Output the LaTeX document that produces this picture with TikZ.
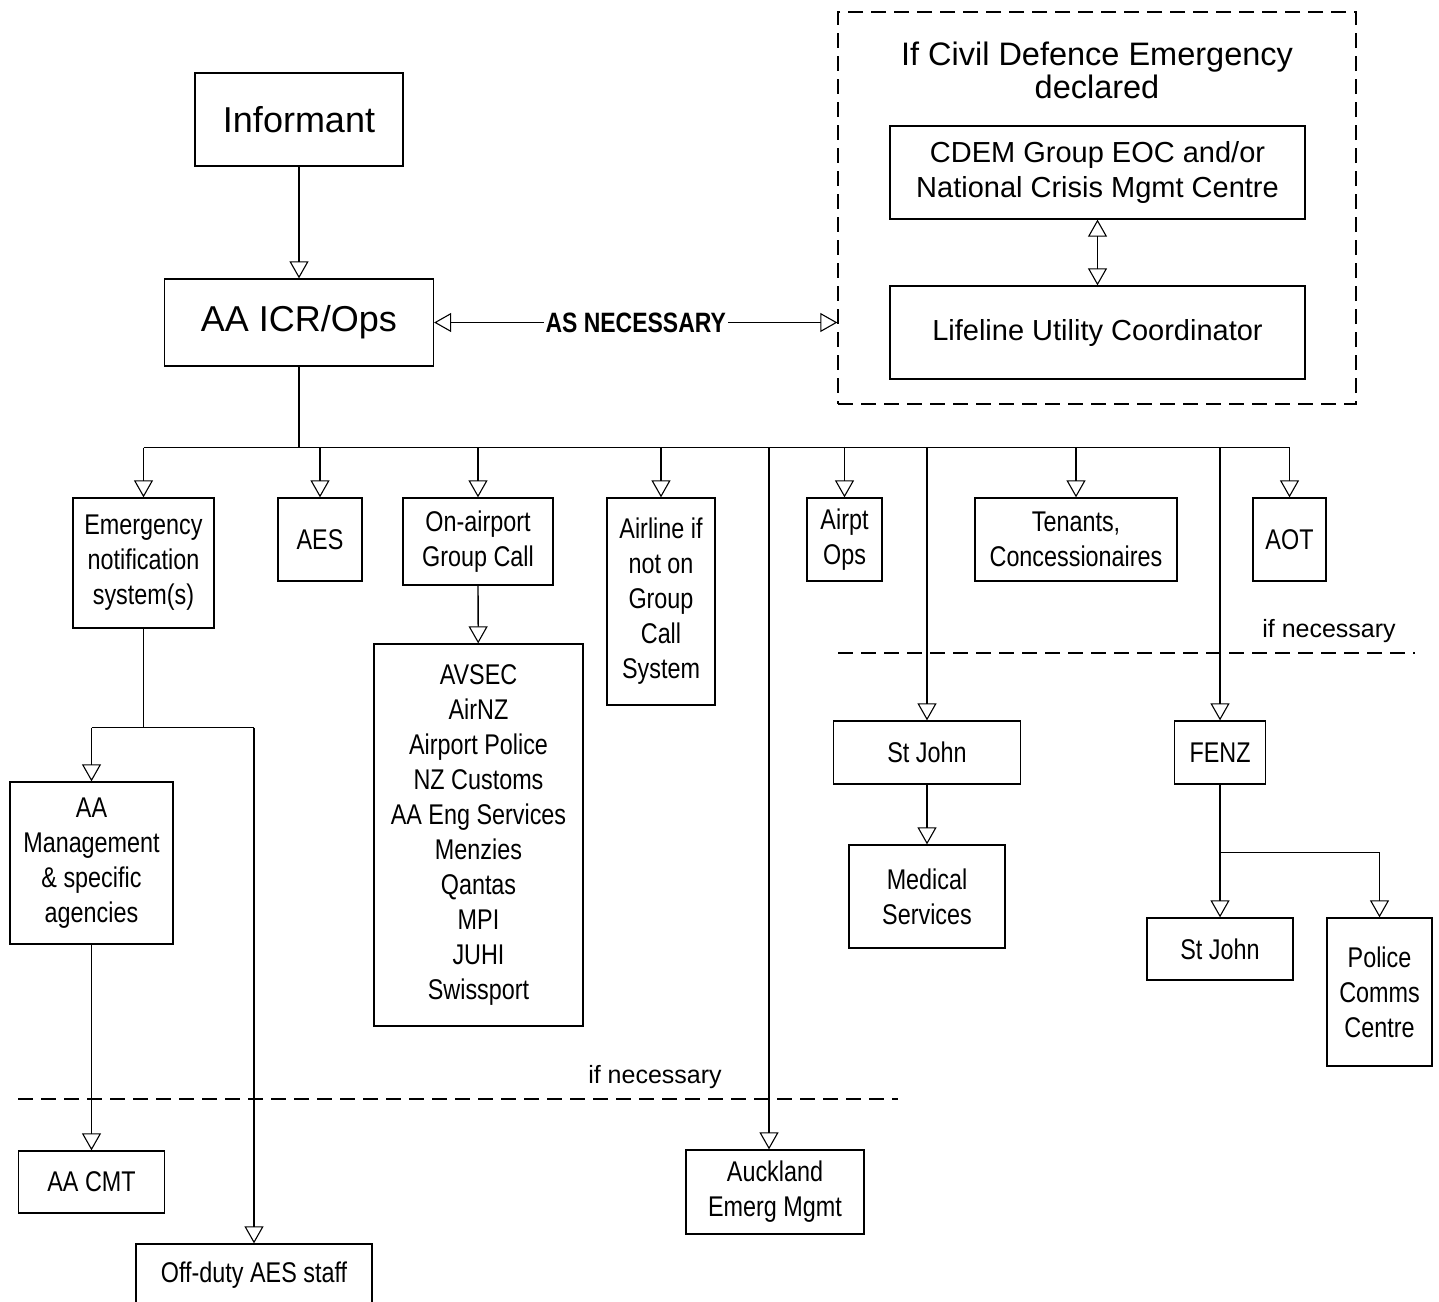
\documentclass[tikz,border=0pt]{standalone}
\usepackage{fontspec}
\setmainfont{Liberation Sans}
\newfontfamily\narrowfont[FakeStretch=0.82]{Liberation Sans}
\usetikzlibrary{arrows.meta,positioning}

\begin{document}
\begin{tikzpicture}[
  x=1pt, y=-1pt,
  line width=1.3pt,
  >={Triangle[open,length=17pt,width=19pt,line width=1.1pt]},
  box/.style={draw, align=center, inner sep=0pt},
  big/.style={box, font=\fontsize{36}{43}\selectfont},
  wide/.style={box, minimum width=415pt, minimum height=93pt, font=\fontsize{29}{35}\selectfont},
  small/.style={box, font=\narrowfont\fontsize{28.5}{35}\selectfont},
  note/.style={font=\fontsize{25}{30}\selectfont},
  sep/.style={dash pattern=on 15pt off 8pt}
]
  \fill[white] (0,0) rectangle (1439,1301);
  \useasboundingbox (0,0) rectangle (1439,1301);

  % top part
  \node[big, minimum width=208pt, minimum height=93pt] (informant) at (299,119.5) {Informant};
  \node[big, minimum width=269pt, minimum height=87pt] (icr) at (299,322.5) {AA ICR/Ops};
  \node[draw, sep, minimum width=518pt, minimum height=392pt, inner sep=0pt] (civil) at (1097,208) {};
  \node[align=center, font=\fontsize{32.5}{33}\selectfont] (civtitle) at (1097,70)
    {If Civil Defence Emergency\\declared};
  \node[wide] (cdem) at (1097.5,172.5) {CDEM Group EOC and/or\\National Crisis Mgmt Centre};
  \node[wide] (lifeline) at (1097.5,332.5) {Lifeline Utility Coordinator};

  % first row
  \node[small, minimum width=141pt, minimum height=130pt] (ens) at (143.5,563) {Emergency\\notification\\system(s)};
  \node[small, minimum width=84pt, minimum height=83pt] (aes) at (320,539.5) {AES};
  \node[small, minimum width=150pt, minimum height=87pt] (grpcall) at (478,541.5) {On-airport\\Group Call};
  \node[small, minimum width=108pt, minimum height=207pt] (airline) at (661,601.5) {Airline if\\not on\\Group\\Call\\System};
  \node[small, minimum width=75pt, minimum height=83pt] (airpt) at (844.5,539.5) {Airpt\\Ops};
  \node[small, minimum width=202pt, minimum height=83pt] (tenants) at (1076,539.5) {Tenants,\\Concessionaires};
  \node[small, minimum width=73pt, minimum height=83pt] (aot) at (1289.5,539.5) {AOT};

  % lower boxes
  \node[small, minimum width=209pt, minimum height=382pt] (agencies) at (478.5,835)
    {AVSEC\\AirNZ\\Airport Police\\NZ Customs\\AA Eng Services\\Menzies\\Qantas\\MPI\\JUHI\\Swissport};
  \node[small, minimum width=163pt, minimum height=162pt] (aamgmt) at (91.5,863) {AA\\Management\\\& specific\\agencies};
  \node[small, minimum width=146pt, minimum height=62pt] (aacmt) at (91.5,1182) {AA CMT};
  \node[small, minimum width=236pt, minimum height=62pt] (offduty) at (254,1275) {Off-duty AES staff};
  \node[small, minimum width=178pt, minimum height=84pt] (aem) at (775,1192) {Auckland\\Emerg Mgmt};
  \node[small, minimum width=187pt, minimum height=63pt] (stjohn) at (927,752.5) {St John};
  \node[small, minimum width=156pt, minimum height=103pt] (medical) at (927,896.5) {Medical\\Services};
  \node[small, minimum width=91pt, minimum height=63pt] (fenz) at (1220,752.5) {FENZ};
  \node[small, minimum width=146pt, minimum height=62pt] (stjohnb) at (1220,949) {St John};
  \node[small, minimum width=105pt, minimum height=148pt] (police) at (1379.5,992) {Police\\Comms\\Centre};

  % if necessary lines
  \draw[sep] (18,1099) -- (898,1099);
  \draw[sep] (838,653) -- (1415,653);
  \node[note] (ifnec1) at (655,1077) {if necessary};
  \node[note] (ifnec2) at (1329,631) {if necessary};

  % connectors
  \draw[->] (informant) -- (icr);
  \draw[<->] (icr.east) -- (icr.east -| civil.west)
    node[midway, fill=white, inner sep=2pt, font=\narrowfont\bfseries\fontsize{28}{34}\selectfont] (asnec) {AS NECESSARY};
  \draw[<->] (cdem) -- (lifeline);

  \draw (icr.south) -- ++(0,81) coordinate (bus);
  \draw (ens.north |- bus) -- (aot.north |- bus);
  \foreach \n in {ens,aes,grpcall,airline,airpt,tenants,aot,stjohn,fenz}
    \draw[->] (\n.north |- bus) -- (\n.north);
  \draw[->] ([xshift=-6pt]aem.north |- bus) -- ([xshift=-6pt]aem.north);

  \draw[->] (grpcall) -- (agencies);
  \draw (ens.south) -- ++(0,99) coordinate (enssplit);
  \draw (aamgmt.north |- enssplit) -- (offduty.north |- enssplit);
  \draw[->] (aamgmt.north |- enssplit) -- (aamgmt.north);
  \draw[->] (offduty.north |- enssplit) -- (offduty.north);
  \draw[->] (aamgmt) -- (aacmt);

  \draw[->] (stjohn) -- (medical);
  \draw (fenz.south) -- ++(0,68) coordinate (fsplit);
  \draw[->] (fsplit) -- (stjohnb.north);
  \draw[->] (fsplit) -| (police.north);
\end{tikzpicture}
\end{document}
